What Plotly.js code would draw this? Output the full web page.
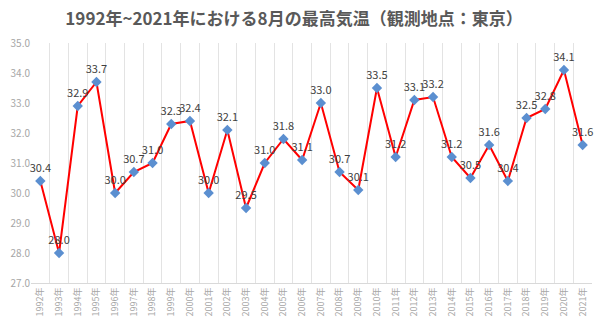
<!DOCTYPE html>
<html>
<head>
<meta charset="utf-8">
<script src="https://cdn.plot.ly/plotly-3.0.1.min.js"></script>
<style>html,body{margin:0;padding:0;background:#fff;}#chart{width:600px;height:324px;}</style>
</head>
<body>
<div id="chart"></div>
<script>
const years = ["1992年","1993年","1994年","1995年","1996年","1997年","1998年","1999年","2000年","2001年","2002年","2003年","2004年","2005年","2006年","2007年","2008年","2009年","2010年","2011年","2012年","2013年","2014年","2015年","2016年","2017年","2018年","2019年","2020年","2021年"];
const temps = [30.4,28.0,32.9,33.7,30.0,30.7,31.0,32.3,32.4,30.0,32.1,29.5,31.0,31.8,31.1,33.0,30.7,30.1,33.5,31.2,33.1,33.2,31.2,30.5,31.6,30.4,32.5,32.8,34.1,31.6];
const titleText = "1992年~2021年における8月の最高気温（観測地点：東京）";

const trace = {
  x: years,
  y: temps,
  type: "scatter",
  mode: "lines+markers+text",
  text: temps.map(v => v.toFixed(1)),
  textposition: "top center",
  textfont: {family: "Noto Sans CJK JP, sans-serif", size: 11, color: "#404040"},
  line: {color: "#ff0000", width: 2},
  marker: {symbol: "diamond", size: 8, color: "#5b8fd0"},
  cliponaxis: false,
  hoverinfo: "x+y"
};

const layout = {
  width: 600,
  height: 324,
  margin: {l: 31, r: 8, t: 43, b: 41},
  paper_bgcolor: "#ffffff",
  plot_bgcolor: "#ffffff",
  showlegend: false,
  title: {
    text: titleText,
    x: 0.49, xanchor: "center",
    y: 0.94, yanchor: "middle",
    font: {family: "Noto Sans CJK JP, sans-serif", size: 17, color: "#595959", weight: "bold"}
  },
  xaxis: {
    type: "category",
    range: [-0.5, 29.5],
    tickson: "boundaries",
    showgrid: true,
    gridcolor: "#e3e3e3",
    gridwidth: 1,
    showline: true,
    linecolor: "#d9d9d9",
    ticks: "",
    tickangle: -90,
    tickfont: {family: "Noto Sans CJK JP, sans-serif", size: 9, color: "#a6a6a6"},
    fixedrange: true
  },
  yaxis: {
    range: [27, 35],
    dtick: 1,
    tickformat: ".1f",
    showgrid: false,
    zeroline: false,
    showline: false,
    ticks: "",
    tickfont: {family: "Noto Sans CJK JP, sans-serif", size: 10, color: "#a6a6a6"},
    fixedrange: true
  }
};

Plotly.newPlot("chart", [trace], layout, {displayModeBar: false, staticPlot: true});
</script>
</body>
</html>
